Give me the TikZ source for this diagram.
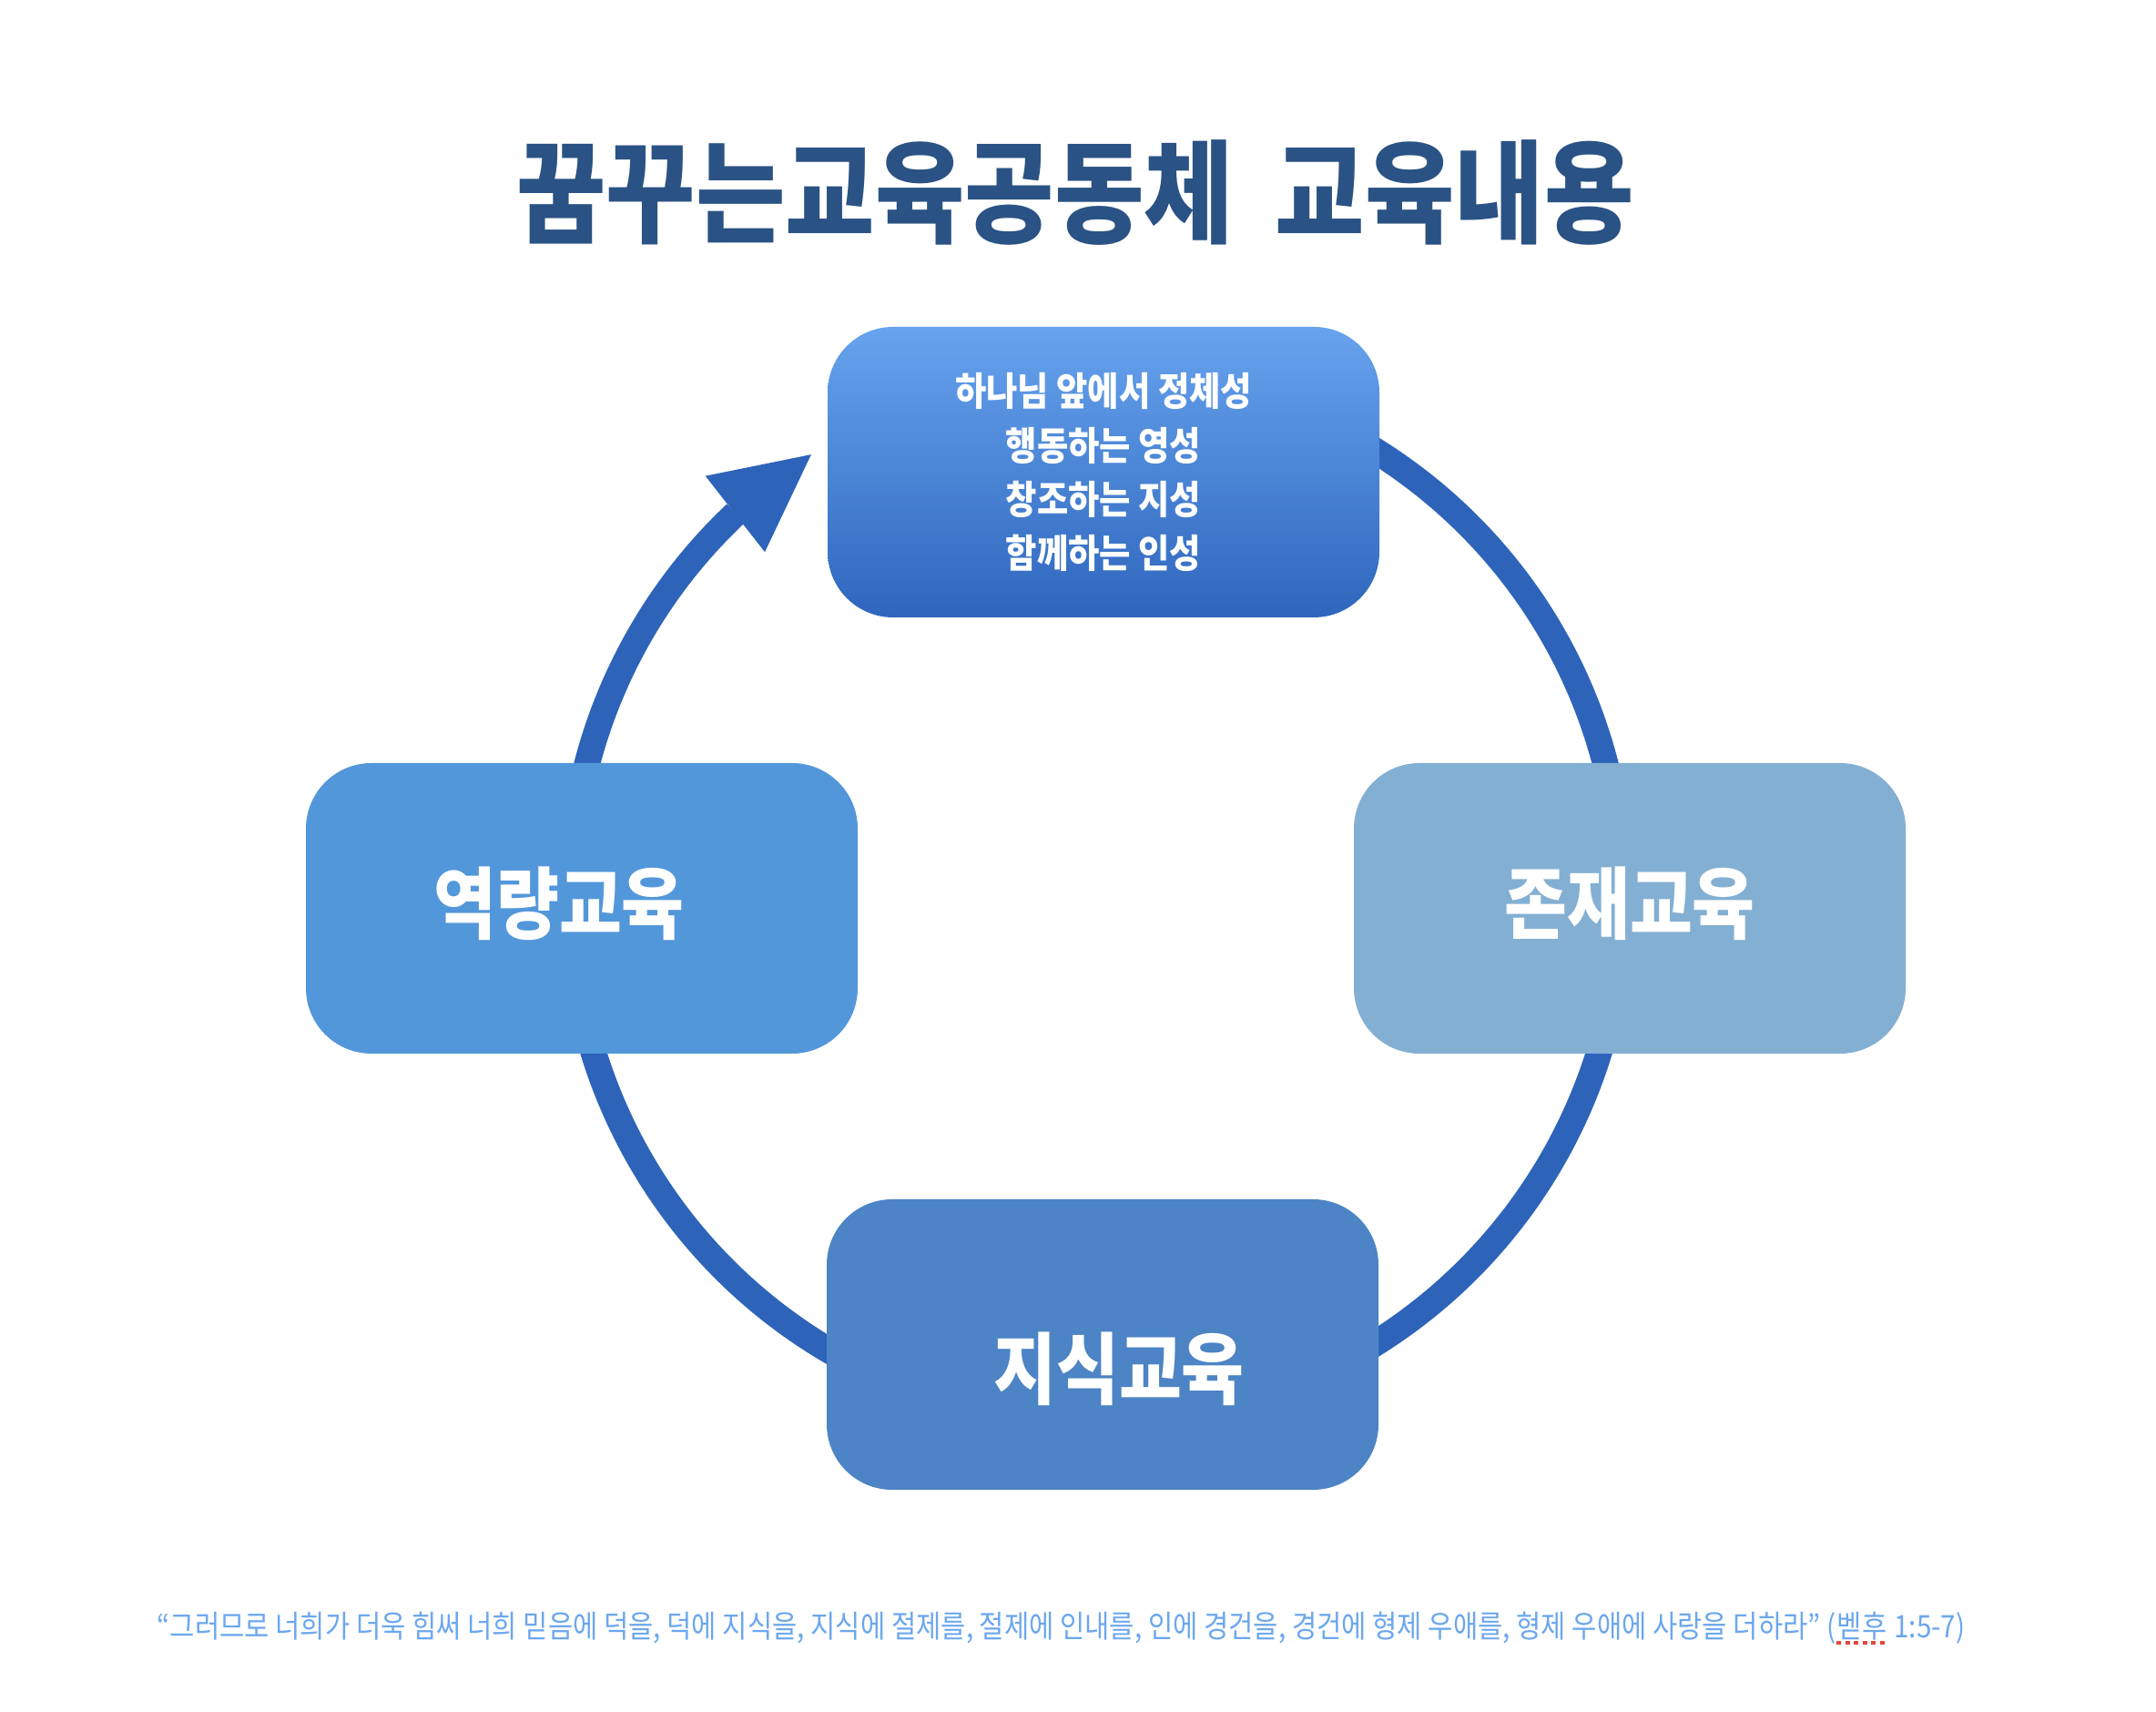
\documentclass[tikz,border=0pt]{standalone}
\usepackage{fontspec}
\usepackage{xcolor}
\usepackage{tikz}
\usetikzlibrary{calc,arrows.meta,bending}
\newfontfamily\krfont[FakeStretch=0.87]{Noto Sans CJK KR}
\definecolor{bg}{HTML}{FFFFFF}
\definecolor{navy}{HTML}{2A5284}
\definecolor{ringblue}{HTML}{2D64BA}
\definecolor{topfrom}{HTML}{67A3EE}
\definecolor{topto}{HTML}{2E66BD}
\definecolor{capfill}{HTML}{5397DB}
\definecolor{beingfill}{HTML}{83AFD3}
\definecolor{knowfill}{HTML}{4C84C5}
\definecolor{versec}{HTML}{6CA7EE}
\definecolor{spell}{HTML}{E2463C}
\tikzset{
  card/.style={rounded corners=0.72cm, minimum width=6.06cm, minimum height=3.19cm, inner sep=0pt, text=white},
  cardlab/.style={text=white, inner sep=0pt, font=\krfont\bfseries\fontsize{24.5pt}{29pt}\selectfont},
  ringline/.style={draw=ringblue, line width=0.285cm},
  titlelab/.style={text=navy, inner sep=0pt, font=\krfont\bfseries\fontsize{35pt}{41pt}\selectfont},
  verselab/.style={text=versec, inner sep=0pt, font=\krfont\fontsize{9.7pt}{12pt}\selectfont},
  spellmark/.style={draw=spell, line width=0.045cm, dash pattern=on 0.05cm off 0.045cm}
}
\begin{document}
\begin{tikzpicture}
  \useasboundingbox (0,0) rectangle (23.68,18.80);
  \fill[bg] (0,0) rectangle (23.68,18.80);
  \def\r{5.78}
  \coordinate (hub) at (12.04,8.95);
  % ring behind the cards
  \draw[ringline, -{Triangle[length=1.06cm, width=1.06cm, line width=0pt, flex]}]
    ($(hub)+(175:\r)$) arc[start angle=175, end angle=122.8, radius=\r];
  \draw[ringline] ($(hub)+(100:\r)$) arc[start angle=100, end angle=-185, radius=\r];
  \node[titlelab] (title) at (11.81,16.68) {꿈꾸는교육공동체\hspace{0.46cm}교육내용};
  \node[card, top color=topfrom, bottom color=topto, align=center,
        font=\krfont\bfseries\fontsize{12.2pt}{16.8pt}\selectfont] (spirit) at (12.12,13.615)
    {하나님 앞에서 정체성\\행동하는 영성\\창조하는 지성\\함께하는 인성};
  \node[card, fill=capfill] (cap) at (6.39,8.825) {};
  \node[card, fill=beingfill] (being) at (17.90,8.825) {};
  \node[card, fill=knowfill] (know) at (12.11,4.035) {};
  \node[cardlab] (caplab) at ($(cap)+(-0.25,0.055)$) {역량교육};
  \node[cardlab] (beinglab) at ($(being)+(0,0.055)$) {존재교육};
  \node[cardlab] (knowlab) at ($(know)+(0.18,-0.265)$) {지식교육};
  % verse line
  \node[verselab, anchor=base west] (verse) at (1.72,0.81)
    {“그러므로 너희가 더욱 힘써 너희 믿음에 덕을, 덕에 지식을, 지식에 절제를, 절제에 인내를, 인에 경건을, 경건에 형제 우애를, 형제 우애에 사랑을 더하라” (};
  \node[verselab, anchor=base west] (book) at (verse.base east) {벧후};
  \node[verselab, anchor=base west] (chap) at (book.base east) {\ 1:5-7)};
  \draw[spellmark] ([yshift=-0.05cm]book.base west) -- ([yshift=-0.05cm]book.base east);
\end{tikzpicture}
\end{document}
